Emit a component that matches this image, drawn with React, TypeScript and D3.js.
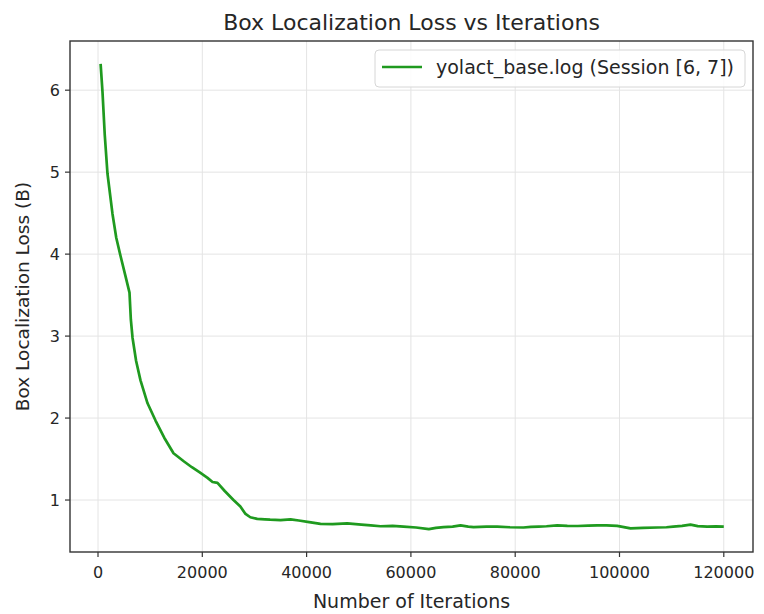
import React from "react";
import * as d3 from "d3";

// Training log: iteration vs box localization loss
const iterations = [
  500, 860, 1300, 1820, 2780, 3500, 4310, 5200, 6040, 6300, 6620, 7300, 8150,
  9500, 11030, 12700, 14480, 16500, 18000, 19650, 21000, 21960, 22910, 24300,
  25980, 27300, 28290, 29200, 30530, 32000, 33000, 35000, 36920, 38500, 40500,
  42670, 45000, 47790, 50500, 52300, 54170, 56500, 58590, 61000, 63440, 64800,
  66260, 68000, 69520, 71000, 72010, 74500, 76550, 79000, 81600, 83000, 84500,
  86000, 88060, 90000, 92000, 94000, 95730, 97500, 99560, 102120, 104500,
  107240, 109000, 110300, 112000, 113620, 115000, 116820, 118500, 120000,
];
const lossValues = [
  6.32, 5.98, 5.45, 4.98, 4.49, 4.2, 3.98, 3.75, 3.53, 3.2, 2.98, 2.7, 2.46,
  2.18, 1.97, 1.76, 1.57, 1.47, 1.4, 1.33, 1.27, 1.22, 1.21, 1.11, 1.0, 0.92,
  0.83, 0.79, 0.77, 0.765, 0.76, 0.755, 0.765, 0.75, 0.73, 0.71, 0.705, 0.715,
  0.7, 0.69, 0.68, 0.685, 0.675, 0.665, 0.645, 0.66, 0.67, 0.675, 0.69, 0.675,
  0.67, 0.675, 0.675, 0.668, 0.665, 0.672, 0.675, 0.68, 0.69, 0.684, 0.683,
  0.688, 0.69, 0.692, 0.685, 0.655, 0.66, 0.665, 0.668, 0.675, 0.685, 0.7,
  0.682, 0.675, 0.678, 0.675,
];
const xTicks = [0, 20000, 40000, 60000, 80000, 100000, 120000];
const yTicks = [1, 2, 3, 4, 5, 6];

const titleText = "Box Localization Loss vs Iterations";
const xLabel = "Number of Iterations";
const yLabel = "Box Localization Loss (B)";
const seriesName = "yolact_base.log (Session [6, 7])";

const W = 764;
const H = 614;
const left = 70;
const right = 753;
const top = 41;
const bottom = 552;
const FONT = "'DejaVu Sans', sans-serif";
const LINE = "#1f9a1f";
const TEXT = "#262626";

export default function App() {
  const x = d3.scaleLinear().domain([-5370, 125600]).range([left, right]);
  const y = d3.scaleLinear().domain([0.366, 6.6]).range([bottom, top]);
  const points: [number, number][] = iterations.map((it, i) => [it, lossValues[i]]);
  const path = d3
    .line<[number, number]>()
    .x((d) => x(d[0]))
    .y((d) => y(d[1]))(points) as string;

  return (
    <svg
      width={W}
      height={H}
      style={{ position: "absolute", left: 0, top: 0, background: "#fff" }}
      fontFamily={FONT}
    >
      <rect x={0} y={0} width={W} height={H} fill="#fff" />
      {/* grid */}
      {xTicks.map((t) => (
        <line key={"gx" + t} x1={x(t)} x2={x(t)} y1={top} y2={bottom} stroke="#e4e4e4" strokeWidth={1} />
      ))}
      {yTicks.map((t) => (
        <line key={"gy" + t} x1={left} x2={right} y1={y(t)} y2={y(t)} stroke="#e4e4e4" strokeWidth={1} />
      ))}
      {/* loss curve */}
      <path d={path} fill="none" stroke={LINE} strokeWidth={2.7} strokeLinejoin="round" />
      {/* frame */}
      <rect x={left} y={top} width={right - left} height={bottom - top} fill="none" stroke="#333" strokeWidth={1.4} />
      {/* x ticks */}
      {xTicks.map((t) => (
        <g key={"xt" + t}>
          <line x1={x(t)} x2={x(t)} y1={bottom} y2={bottom + 5} stroke="#333" strokeWidth={1.2} />
          <text x={x(t)} y={bottom + 26} textAnchor="middle" fontSize={16} fill={TEXT}>
            {t}
          </text>
        </g>
      ))}
      {/* y ticks */}
      {yTicks.map((t) => (
        <g key={"yt" + t}>
          <line x1={left - 5} x2={left} y1={y(t)} y2={y(t)} stroke="#333" strokeWidth={1.2} />
          <text x={left - 10} y={y(t) + 6} textAnchor="end" fontSize={16} fill={TEXT}>
            {t}
          </text>
        </g>
      ))}
      {/* labels */}
      <text x={(left + right) / 2} y={30} textAnchor="middle" fontSize={22} fill={TEXT}>
        {titleText}
      </text>
      <text x={(left + right) / 2} y={608} textAnchor="middle" fontSize={19} fill={TEXT}>
        {xLabel}
      </text>
      <text
        transform={`translate(29, ${(top + bottom) / 2}) rotate(-90)`}
        textAnchor="middle"
        fontSize={18.5}
        fill={TEXT}
      >
        {yLabel}
      </text>
      {/* legend */}
      <rect x={375} y={50} width={370} height={37} rx={4} fill="#fff" fillOpacity={0.85} stroke="#d6d6d6" strokeWidth={1} />
      <line x1={382} x2={422} y1={67} y2={67} stroke={LINE} strokeWidth={2.7} />
      <text x={436} y={74} fontSize={19} fill={TEXT}>
        {seriesName}
      </text>
    </svg>
  );
}
